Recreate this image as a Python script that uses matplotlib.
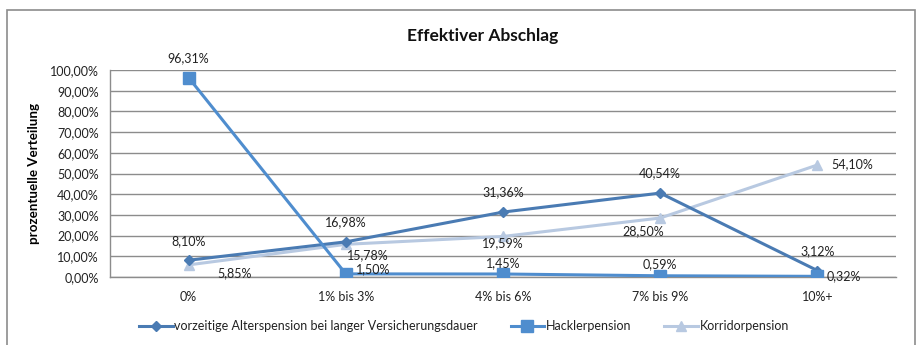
import matplotlib
matplotlib.use("Agg")
import matplotlib.pyplot as plt
from matplotlib.patches import Rectangle
from matplotlib.ticker import FuncFormatter

plt.rcParams['font.family'] = ['Lato', 'DejaVu Sans']

categories = ["0%", "1% bis 3%", "4% bis 6%", "7% bis 9%", "10%+"]
vorzeitig = [8.10, 16.98, 31.36, 40.54, 3.12]
hackler = [96.31, 1.50, 1.45, 0.59, 0.32]
korridor = [5.85, 15.78, 19.59, 28.50, 54.10]

names = ["vorzeitige Alterspension bei langer Versicherungsdauer",
         "Hacklerpension", "Korridorpension"]
colors = ["#4A7BB3", "#4F8DCE", "#B8C9E1"]
markers = ["D", "s", "^"]
msizes = [5.5, 8, 7]

FS = 9

# label placement per series and point: (dx, dy) in points, ha, va
label_pos = [
    [(0, 14, "center", "center")] * 5,
    [(0, 14, "center", "center"), (7, 3.5, "left", "center"),
     (0, 7.5, "center", "center"), (0, 8.5, "center", "center"),
     (7, 0, "left", "center")],
    [(21, -6, "left", "center"), (1, -8, "left", "center"),
     (0, -5, "center", "center"), (-12, -9.5, "center", "center"),
     (10, 0.5, "left", "center")],
]

fig = plt.figure(figsize=(9.2, 3.45), dpi=100)
ax = fig.add_axes([110 / 920, 1 - 277 / 345, 786 / 920, 207 / 345])

x = list(range(len(categories)))
series = [vorzeitig, hackler, korridor]
zorders = [3.2, 3.3, 3.1]
for i, vals in enumerate(series):
    ax.plot(x, vals, color=colors[i], lw=2.2, marker=markers[i],
            ms=msizes[i], mfc=colors[i], mec=colors[i], label=names[i],
            zorder=zorders[i])
    for j, v in enumerate(vals):
        dx, dy, ha, va = label_pos[i][j]
        ax.annotate(f"{v:.2f}%".replace(".", ","), (j, v),
                    xytext=(dx, dy), textcoords="offset points",
                    ha=ha, va=va, fontsize=FS, color="#222222", zorder=6)

ax.set_xlim(-0.5, 4.5)
ax.set_ylim(0, 100)
ax.set_yticks(range(0, 101, 10))
ax.yaxis.set_major_formatter(FuncFormatter(lambda v, p: f"{v:.2f}%".replace(".", ",")))
ax.set_xticks(x)
ax.set_xticklabels(categories)
ax.tick_params(axis="both", labelsize=FS, colors="#222222", length=0)
ax.tick_params(axis="y", pad=8)
ax.tick_params(axis="x", pad=10)
ax.grid(axis="y", color="#8C8C8C", lw=1)
ax.set_axisbelow(True)
for s in ["top", "right"]:
    ax.spines[s].set_visible(False)
for s in ["left", "bottom"]:
    ax.spines[s].set_color("#8C8C8C")
    ax.spines[s].set_linewidth(1)

ax.set_ylabel("prozentuelle Verteilung", fontsize=9.6, fontweight="bold")
ax.yaxis.set_label_coords(-70 / 786, 0.5)

fig.text(483 / 920, 1 - 36 / 345, "Effektiver Abschlag", ha="center", va="center",
         fontsize=12.5, fontweight="bold", color="#111111")

fig.patches.append(Rectangle((7 / 920, -0.1), 908 / 920, 1.1 - 10 / 345,
                             transform=fig.transFigure, fill=False,
                             edgecolor="#8C8C8C", lw=1.2))

leg = fig.legend(loc="center", bbox_to_anchor=(464 / 920, 1 - 326 / 345), ncol=3,
                 frameon=False, fontsize=FS, handlelength=2.7,
                 handletextpad=0.15, columnspacing=2.6)
for t in leg.get_texts():
    t.set_color("#222222")

fig.savefig("out.png", dpi=100)
